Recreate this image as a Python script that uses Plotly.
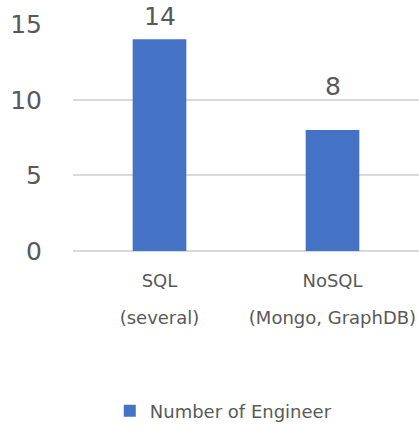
import plotly.graph_objects as go

categories = ["SQL", "NoSQL"]
subtitles = ["(several)", "(Mongo, GraphDB)"]
engineers = [14, 8]
label_shift = [6, 27]
series_name = "Number of Engineer"
y_ticks = [0, 5, 10, 15]

GRAY = "#595959"
FONT = "DejaVu Sans"

fig = go.Figure()
fig.add_trace(go.Bar(
    x=categories, y=engineers, name=series_name,
    marker=dict(color="#4472C4", line=dict(width=0)),
    width=0.31, showlegend=True,
))
# carrier trace for the second row of category labels
fig.add_trace(go.Scatter(
    x=subtitles, y=engineers, xaxis="x2", mode="markers",
    marker=dict(opacity=0), showlegend=False, hoverinfo="skip",
))

for c, v, s in zip(categories, engineers, label_shift):
    fig.add_annotation(x=c, y=v, text=str(v), showarrow=False,
                       yanchor="bottom", yshift=s,
                       font=dict(family=FONT, size=25, color=GRAY))

fig.update_layout(
    width=419, height=427,
    margin=dict(l=73, r=0, t=24, b=176),
    paper_bgcolor="white", plot_bgcolor="white",
    font=dict(family=FONT, color=GRAY),
    showlegend=True,
    legend=dict(orientation="h", xref="container", yref="container",
                x=0.262, xanchor="left", y=0.0375, yanchor="middle",
                font=dict(family=FONT, size=18, color=GRAY)),
    xaxis=dict(type="category", showgrid=False, showline=False, ticks="", automargin=False,
               range=[-0.5, 1.5], ticklabelstandoff=17, zeroline=False,
               tickfont=dict(family=FONT, size=18, color=GRAY)),
    xaxis2=dict(type="category", overlaying="x", anchor="y", side="bottom", range=[-0.5, 1.5],
                showgrid=False, zeroline=False, showline=False, ticks="",
                automargin=False, ticklabelstandoff=54,
                tickfont=dict(family=FONT, size=18, color=GRAY)),
)
fig.update_yaxes(range=[0, 15.01], tickvals=y_ticks, showgrid=True,
                 gridcolor="#d9d9d9", gridwidth=1.5, zeroline=True,
                 zerolinecolor="#d9d9d9", zerolinewidth=1.5, automargin=False,
                 showline=False, ticks="", ticklabelstandoff=30,
                 tickfont=dict(family=FONT, size=25, color=GRAY))

fig.write_html("out.html", config={"displayModeBar": False},
               post_script="document.body.style.margin='0px';")
